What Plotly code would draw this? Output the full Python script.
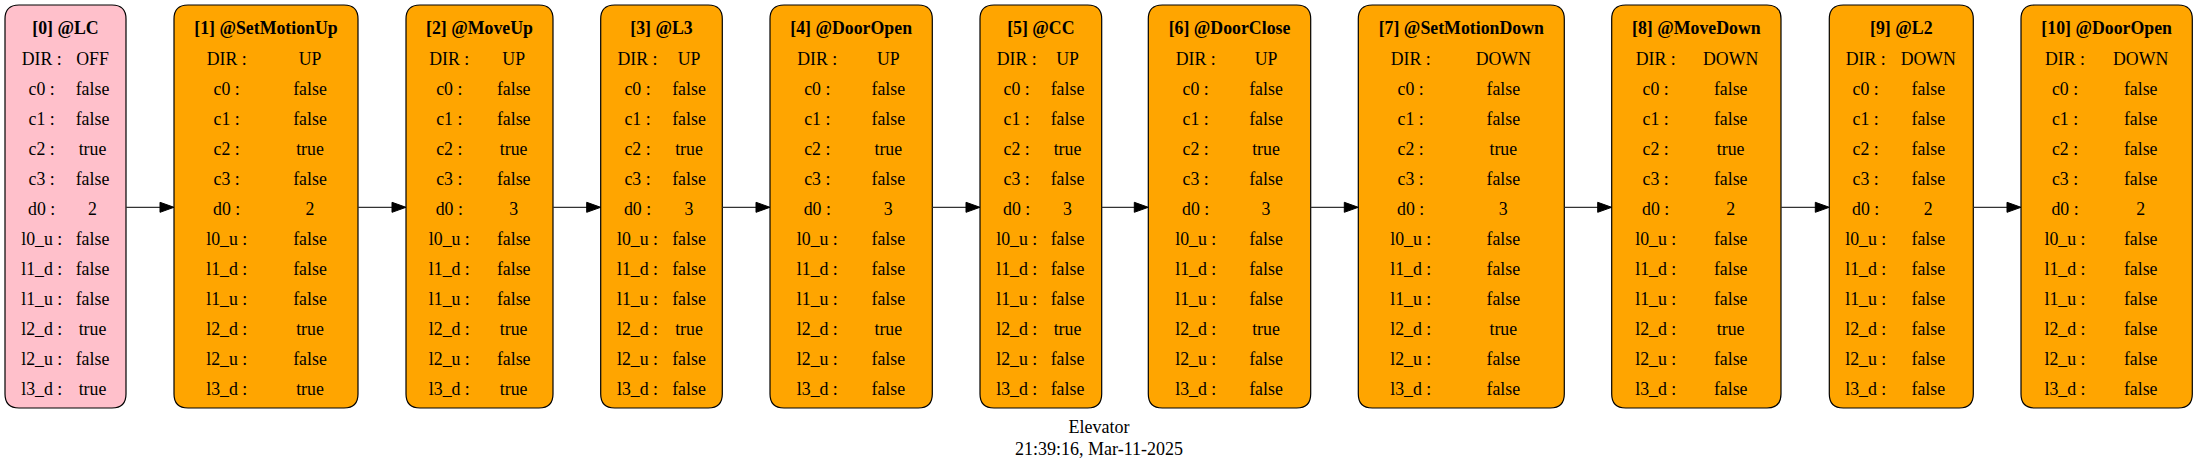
import plotly.graph_objects as go

# state trace of the elevator model
states = ["LC", "SetMotionUp", "MoveUp", "L3", "DoorOpen", "CC", "DoorClose",
          "SetMotionDown", "MoveDown", "L2", "DoorOpen"]
dir_vals = ["OFF", "UP", "UP", "UP", "UP", "UP", "UP", "DOWN", "DOWN", "DOWN", "DOWN"]
var_names = ["c0", "c1", "c2", "c3", "d0", "l0_u", "l1_d", "l1_u", "l2_d", "l2_u", "l3_d"]

c0 = ["false"] * 11
c1 = ["false"] * 11
c2 = ["true"] * 9 + ["false"] * 2
c3 = ["false"] * 11
d0 = ["2", "2", "3", "3", "3", "3", "3", "3", "2", "2", "2"]
l0_u = ["false"] * 11
l1_d = ["false"] * 11
l1_u = ["false"] * 11
l2_d = ["true"] * 9 + ["false"] * 2
l2_u = ["false"] * 11
l3_d = ["true", "true", "true"] + ["false"] * 8

caption = ["Elevator", "21:39:16, Mar-11-2025"]

# layout of the boxes (pixels), as graphviz placed them
box_left = [5, 174, 406, 600.7, 770, 980, 1148.3, 1358.3, 1611.7, 1829.3, 2021]
box_right = [126, 358, 553, 722.3, 932.3, 1101.7, 1310.7, 1564.3, 1781, 1973.3, 2192.3]
label_cx = [41.7, 226.7, 449.3, 637.5, 817.3, 1016.7, 1195.7, 1410.7, 1655.7, 1865.7, 2065]
value_cx = [92.5, 310, 513.7, 689, 888.3, 1067.5, 1266, 1503.3, 1730.7, 1928.3, 2140.7]
box_top, box_bot = 5, 408
title_y, row0_y, row_h = 29.5, 60.2, 30
cap_y = [428, 450]
edge_y = 207.3
W, H = 2198, 469
FONT = "Liberation Serif"
FS = 17.8

columns = [c0, c1, c2, c3, d0, l0_u, l1_d, l1_u, l2_d, l2_u, l3_d]


def rounded(x0, y0, x1, y1, r):
    return (f"M {x0+r},{y0} L {x1-r},{y0} Q {x1},{y0} {x1},{y0+r} "
            f"L {x1},{y1-r} Q {x1},{y1} {x1-r},{y1} L {x0+r},{y1} "
            f"Q {x0},{y1} {x0},{y1-r} L {x0},{y0+r} Q {x0},{y0} {x0+r},{y0} Z")


shapes = []
for i in range(len(states)):
    fill = "pink" if i == 0 else "orange"
    shapes.append(dict(type="path", path=rounded(box_left[i], box_top, box_right[i], box_bot, 14),
                       fillcolor=fill, line=dict(color="black", width=1.2), layer="below"))

# edges with arrowheads
for i in range(len(states) - 1):
    x0 = box_right[i]
    x1 = box_left[i + 1]
    shapes.append(dict(type="line", x0=x0, x1=x1 - 13, y0=edge_y, y1=edge_y,
                       line=dict(color="#333333", width=1.3)))
    shapes.append(dict(type="path",
                       path=f"M {x1-14},{edge_y-5} L {x1},{edge_y} L {x1-14},{edge_y+5} Z",
                       fillcolor="black", line=dict(color="black", width=1)))

tx, ty, tt = [], [], []
lx, ly, lt = [], [], []
vx, vy, vt = [], [], []
for i, s in enumerate(states):
    tx.append((box_left[i] + box_right[i]) / 2)
    ty.append(title_y)
    tt.append(f"<b>[{i}] @{s}</b>")
    names = ["DIR"] + var_names
    vals = [dir_vals[i]] + [col[i] for col in columns]
    for k, (n, v) in enumerate(zip(names, vals)):
        lx.append(label_cx[i])
        ly.append(row0_y + k * row_h)
        lt.append(n + " :")
        vx.append(value_cx[i])
        vy.append(row0_y + k * row_h)
        vt.append(v)

fig = go.Figure()
fig.add_trace(go.Scatter(x=tx, y=ty, text=tt, mode="text", textposition="middle center",
                         textfont=dict(family=FONT, size=FS, color="black"), hoverinfo="skip"))
fig.add_trace(go.Scatter(x=lx, y=ly, text=lt, mode="text", textposition="middle center",
                         textfont=dict(family=FONT, size=FS, color="black"), hoverinfo="skip"))
fig.add_trace(go.Scatter(x=vx, y=vy, text=vt, mode="text", textposition="middle center",
                         textfont=dict(family=FONT, size=FS, color="black"), hoverinfo="skip"))
fig.add_trace(go.Scatter(x=[W / 2, W / 2], y=cap_y, text=caption, mode="text",
                         textposition="middle center",
                         textfont=dict(family=FONT, size=18, color="black"), hoverinfo="skip"))

fig.update_layout(
    width=W, height=H,
    margin=dict(l=0, r=0, t=0, b=0),
    paper_bgcolor="white", plot_bgcolor="white",
    showlegend=False,
    shapes=shapes,
    xaxis=dict(range=[0, W], visible=False, fixedrange=True),
    yaxis=dict(range=[H, 0], visible=False, fixedrange=True),
)

# drop the default 8px body margin so the graph sits at the page corner
fig.write_html("out.html", config={"displayModeBar": False},
               post_script="document.body.style.margin='0';document.body.style.overflow='hidden';")
